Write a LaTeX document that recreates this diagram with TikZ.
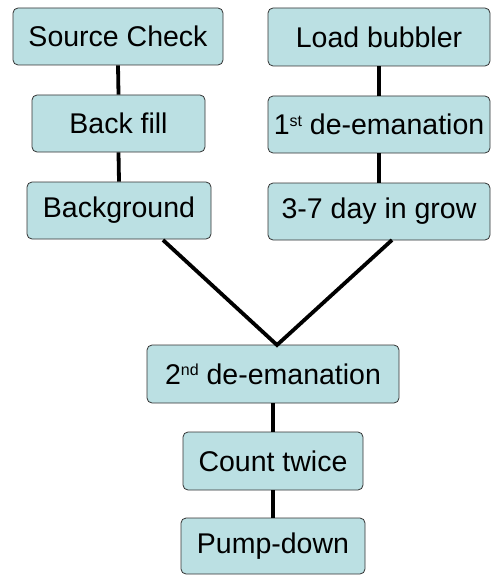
\documentclass[tikz,border=0pt]{standalone}
\usepackage{fontspec}
\setmainfont{Liberation Sans}
\definecolor{boxfill}{HTML}{BBE0E3}
\definecolor{boxdraw}{HTML}{333333}
\newcommand{\supx}[1]{\raisebox{0.55ex}{\fontsize{16}{16}\selectfont #1}}
\begin{document}
\begin{tikzpicture}[x=1pt,y=-1pt,
  stepbox/.style={draw=boxdraw, line width=0.8pt, fill=boxfill, rounded corners=5pt,
    inner sep=0pt, font=\fontsize{28.5}{32}\selectfont, text=black},
  link/.style={line width=3.8pt, black}]
\useasboundingbox (0,0) rectangle (494,575);
\node[stepbox, minimum width=210, minimum height=57] (sc) at (118,36.5) {Source Check};
\node[stepbox, minimum width=173, minimum height=57] (bf) at (118.5,123.5) {Back fill};
\node[stepbox, minimum width=184, minimum height=57] (bg) at (119,210.5) {Background};
\node[stepbox, minimum width=222, minimum height=58] (lb) at (379,37) {Load bubbler};
\node[stepbox, minimum width=222, minimum height=57] (d1) at (379,124.5) {1\supx{st} de-emanation};
\node[stepbox, minimum width=222, minimum height=57] (gr) at (379,211.5) {3-7 day in grow};
\node[stepbox, minimum width=252, minimum height=58] (d2) at (273,374) {2\supx{nd} de-emanation};
\node[stepbox, minimum width=180, minimum height=58] (ct) at (273,461) {Count twice};
\node[stepbox, minimum width=184, minimum height=56] (pd) at (273,546) {Pump-down};
\coordinate (vl) at (163,240);
\coordinate (vr) at (392,240);
\coordinate (vm) at (277,345);
\draw[link] (sc.south) -- (bf.north);
\draw[link] (bf.south) -- (bg.north);
\draw[link] (lb.south) -- (d1.north);
\draw[link] (d1.south) -- (gr.north);
\draw[link] (vl) -- (vm) -- (vr);
\draw[link] (d2.south) -- (ct.north);
\draw[link] (ct.south) -- (pd.north);
\end{tikzpicture}
\end{document}
